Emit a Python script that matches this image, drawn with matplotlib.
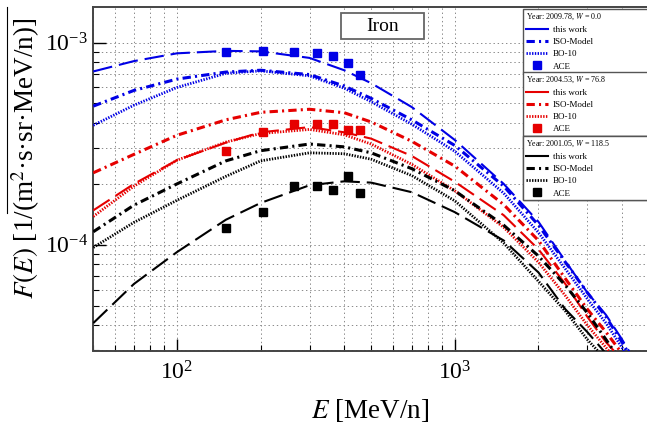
import matplotlib
matplotlib.use('Agg')
import matplotlib.pyplot as plt
import numpy as np
from matplotlib.lines import Line2D
from matplotlib.patches import Rectangle
from matplotlib.ticker import LogLocator, NullFormatter

plt.rcParams['font.family'] = ['Liberation Serif', 'DejaVu Serif']
plt.rcParams['mathtext.fontset'] = 'stix'
plt.rcParams['lines.scale_dashes'] = False

# kinetic energy grid [MeV/n] for the model curves
energy = [50, 70, 100, 150, 200, 300, 400, 500, 700, 1000, 1500, 2000, 2500, 3000, 3500, 4000, 4500]

# 2009.78, W = 0.0
work_2009 = [7.2e-4, 8.1e-4, 8.85e-4, 9.1e-4, 9.05e-4, 8.4e-4, 7.3e-4, 6.3e-4, 4.8e-4, 3.3e-4, 2.0e-4, 1.3e-4, 8.3e-5, 5.8e-5, 4.5e-5, 3.4e-5, 2.6e-5]
iso_2009 = [4.85e-4, 5.8e-4, 6.6e-4, 7.15e-4, 7.3e-4, 6.95e-4, 6.1e-4, 5.3e-4, 4.15e-4, 3.1e-4, 1.95e-4, 1.25e-4, 8.2e-5, 5.8e-5, 4.4e-5, 3.3e-5, 2.5e-5]
bo_2009 = [3.9e-4, 4.9e-4, 6.0e-4, 7.05e-4, 7.25e-4, 6.85e-4, 5.95e-4, 5.1e-4, 3.95e-4, 2.9e-4, 1.8e-4, 1.15e-4, 7.6e-5, 5.4e-5, 4.1e-5, 3.1e-5, 2.4e-5]

# 2004.53, W = 76.8
work_2004 = [1.48e-4, 2.0e-4, 2.62e-4, 3.2e-4, 3.6e-4, 3.82e-4, 3.6e-4, 3.35e-4, 2.75e-4, 2.05e-4, 1.4e-4, 9.5e-5, 6.4e-5, 4.4e-5, 3.3e-5, 2.7e-5, 2.1e-5]
iso_2004 = [2.27e-4, 2.8e-4, 3.48e-4, 4.15e-4, 4.52e-4, 4.68e-4, 4.5e-4, 4.05e-4, 3.25e-4, 2.45e-4, 1.58e-4, 1.05e-4, 6.8e-5, 4.8e-5, 3.7e-5, 2.9e-5, 2.3e-5]
bo_2004 = [1.38e-4, 1.95e-4, 2.62e-4, 3.22e-4, 3.55e-4, 3.72e-4, 3.5e-4, 3.15e-4, 2.5e-4, 1.85e-4, 1.22e-4, 8.2e-5, 5.6e-5, 4.0e-5, 3.1e-5, 2.5e-5, 2.0e-5]

# 2001.05, W = 118.5
work_2001 = [4.1e-5, 6.4e-5, 9.2e-5, 1.33e-4, 1.61e-4, 1.97e-4, 2.06e-4, 2.03e-4, 1.82e-4, 1.45e-4, 1.05e-4, 7.3e-5, 4.8e-5, 3.7e-5, 2.9e-5, 2.3e-5, 1.9e-5]
iso_2001 = [1.16e-4, 1.57e-4, 2.0e-4, 2.6e-4, 2.92e-4, 3.15e-4, 3.05e-4, 2.85e-4, 2.38e-4, 1.85e-4, 1.25e-4, 8.8e-5, 6.3e-5, 4.6e-5, 3.4e-5, 2.6e-5, 2.0e-5]
bo_2001 = [9.7e-5, 1.29e-4, 1.66e-4, 2.18e-4, 2.6e-4, 2.85e-4, 2.82e-4, 2.65e-4, 2.2e-4, 1.65e-4, 1.02e-4, 6.6e-5, 4.7e-5, 3.4e-5, 2.7e-5, 2.1e-5, 1.7e-5]

# ACE measurements
ace_energy = [150, 204, 264, 318, 365, 412, 454]
ace_2009 = [9.0e-4, 9.1e-4, 9.0e-4, 8.9e-4, 8.6e-4, 7.9e-4, 6.9e-4]
ace_2004 = [2.9e-4, 3.6e-4, 3.95e-4, 3.95e-4, 3.95e-4, 3.7e-4, 3.7e-4]
ace_2001 = [1.21e-4, 1.45e-4, 1.95e-4, 1.95e-4, 1.86e-4, 2.2e-4, 1.81e-4]

years = ['2009.78', '2004.53', '2001.05']
w_values = ['0.0', '76.8', '118.5']
colors = ['#0000e6', '#e60000', 'black']
series = [(work_2009, iso_2009, bo_2009, ace_2009),
          (work_2004, iso_2004, bo_2004, ace_2004),
          (work_2001, iso_2001, bo_2001, ace_2001)]

work_dash = (14, 5)
iso_dash = (6, 3, 1.5, 3)
bo_dash = (1, 1)

W, H = 647, 424
fig = plt.figure(figsize=(W / 100, H / 100), dpi=100)
ax = fig.add_axes([93.3 / W, (H - 350.5) / H, (649 - 93.3) / W, (350.5 - 7) / H])

for col, (work, iso, bo, ace) in zip(colors, series):
    ax.plot(energy, work, color=col, lw=1.5, dashes=work_dash, zorder=3)
    ax.plot(energy, iso, color=col, lw=2.2, dashes=iso_dash, zorder=3)
    ax.plot(energy, bo, color=col, lw=2.0, dashes=bo_dash, zorder=3)
    ax.plot(ace_energy, ace, ls='none', marker='s', ms=5.5, color=col, zorder=4)

ax.set_xscale('log')
ax.set_yscale('log')
ax.set_xlim(50, 5000)
ax.set_ylim(3e-5, 1.5e-3)
ax.xaxis.set_minor_locator(LogLocator(base=10, subs=np.arange(2, 10)))
ax.yaxis.set_minor_locator(LogLocator(base=10, subs=np.arange(2, 10)))
ax.xaxis.set_minor_formatter(NullFormatter())
ax.yaxis.set_minor_formatter(NullFormatter())

ax.grid(True, which='both', color='#8a8a8a', ls=(0, (1, 2)), lw=0.7, zorder=0)
ax.set_axisbelow(True)
ax.tick_params(which='major', direction='in', length=9, width=1, labelsize=17,
               top=False, right=False)
ax.tick_params(which='minor', direction='in', length=4, width=0.8, top=False, right=False)
ax.tick_params(axis='x', pad=8)
ax.tick_params(axis='y', pad=4)
for sp in ax.spines.values():
    sp.set_color('#444444')
    sp.set_linewidth(1.4)

ax.set_xlabel(r'$E$ [MeV/n]', fontsize=19.5)
ax.set_ylabel(r'$F(E)$ [1/(m$^2$·s·sr·MeV/n)]', fontsize=19.5)
ax.xaxis.set_label_coords((370 - 93.3) / (649 - 93.3), (350.5 - 397) / 343.5)
ax.yaxis.set_label_coords((42 - 93.3) / (649 - 93.3), (350.5 - 158) / 343.5)
fig.add_artist(Line2D([7 / W, 7 / W], [1 - 7 / H, 1 - 213 / H], color='black', lw=0.8))

# element tag
fig.add_artist(Rectangle((340.7 / W, 1 - 39.3 / H), 83.3 / W, 26 / H, transform=fig.transFigure,
                         facecolor='white', edgecolor='#666666', lw=1.3, zorder=5))
fig.text(382.3 / W, 1 - 26.8 / H, 'Iron', fontsize=14, ha='center', va='center', zorder=6)

# one legend box per solar epoch
tops = [9, 71.7, 136]
for col, year, w, top in zip(colors, years, w_values, tops):
    handles = [Line2D([], [], color=col, lw=1.5),
               Line2D([], [], color=col, lw=2.2, dashes=iso_dash),
               Line2D([], [], color=col, lw=2.0, dashes=bo_dash),
               Line2D([], [], color=col, ls='none', marker='s', ms=5.5)]
    labels = ['this work', 'ISO-Model', 'BO-10', 'ACE']
    leg = ax.legend(handles, labels, title=f'Year: {year}, $W$ = {w}',
                    loc='upper left', bbox_to_anchor=(523 / W, 1 - top / H, 140 / W, 0),
                    bbox_transform=fig.transFigure, mode='expand', fancybox=False,
                    edgecolor='#555555', framealpha=1, fontsize=6.5, title_fontsize=5.8,
                    alignment='left', handlelength=2.5, handletextpad=0.5,
                    labelspacing=0.42, borderpad=0.3, borderaxespad=0)
    leg.get_frame().set_linewidth(1.0)
    leg.set_zorder(10)
    ax.add_artist(leg)

fig.savefig('out.png', dpi=100)
